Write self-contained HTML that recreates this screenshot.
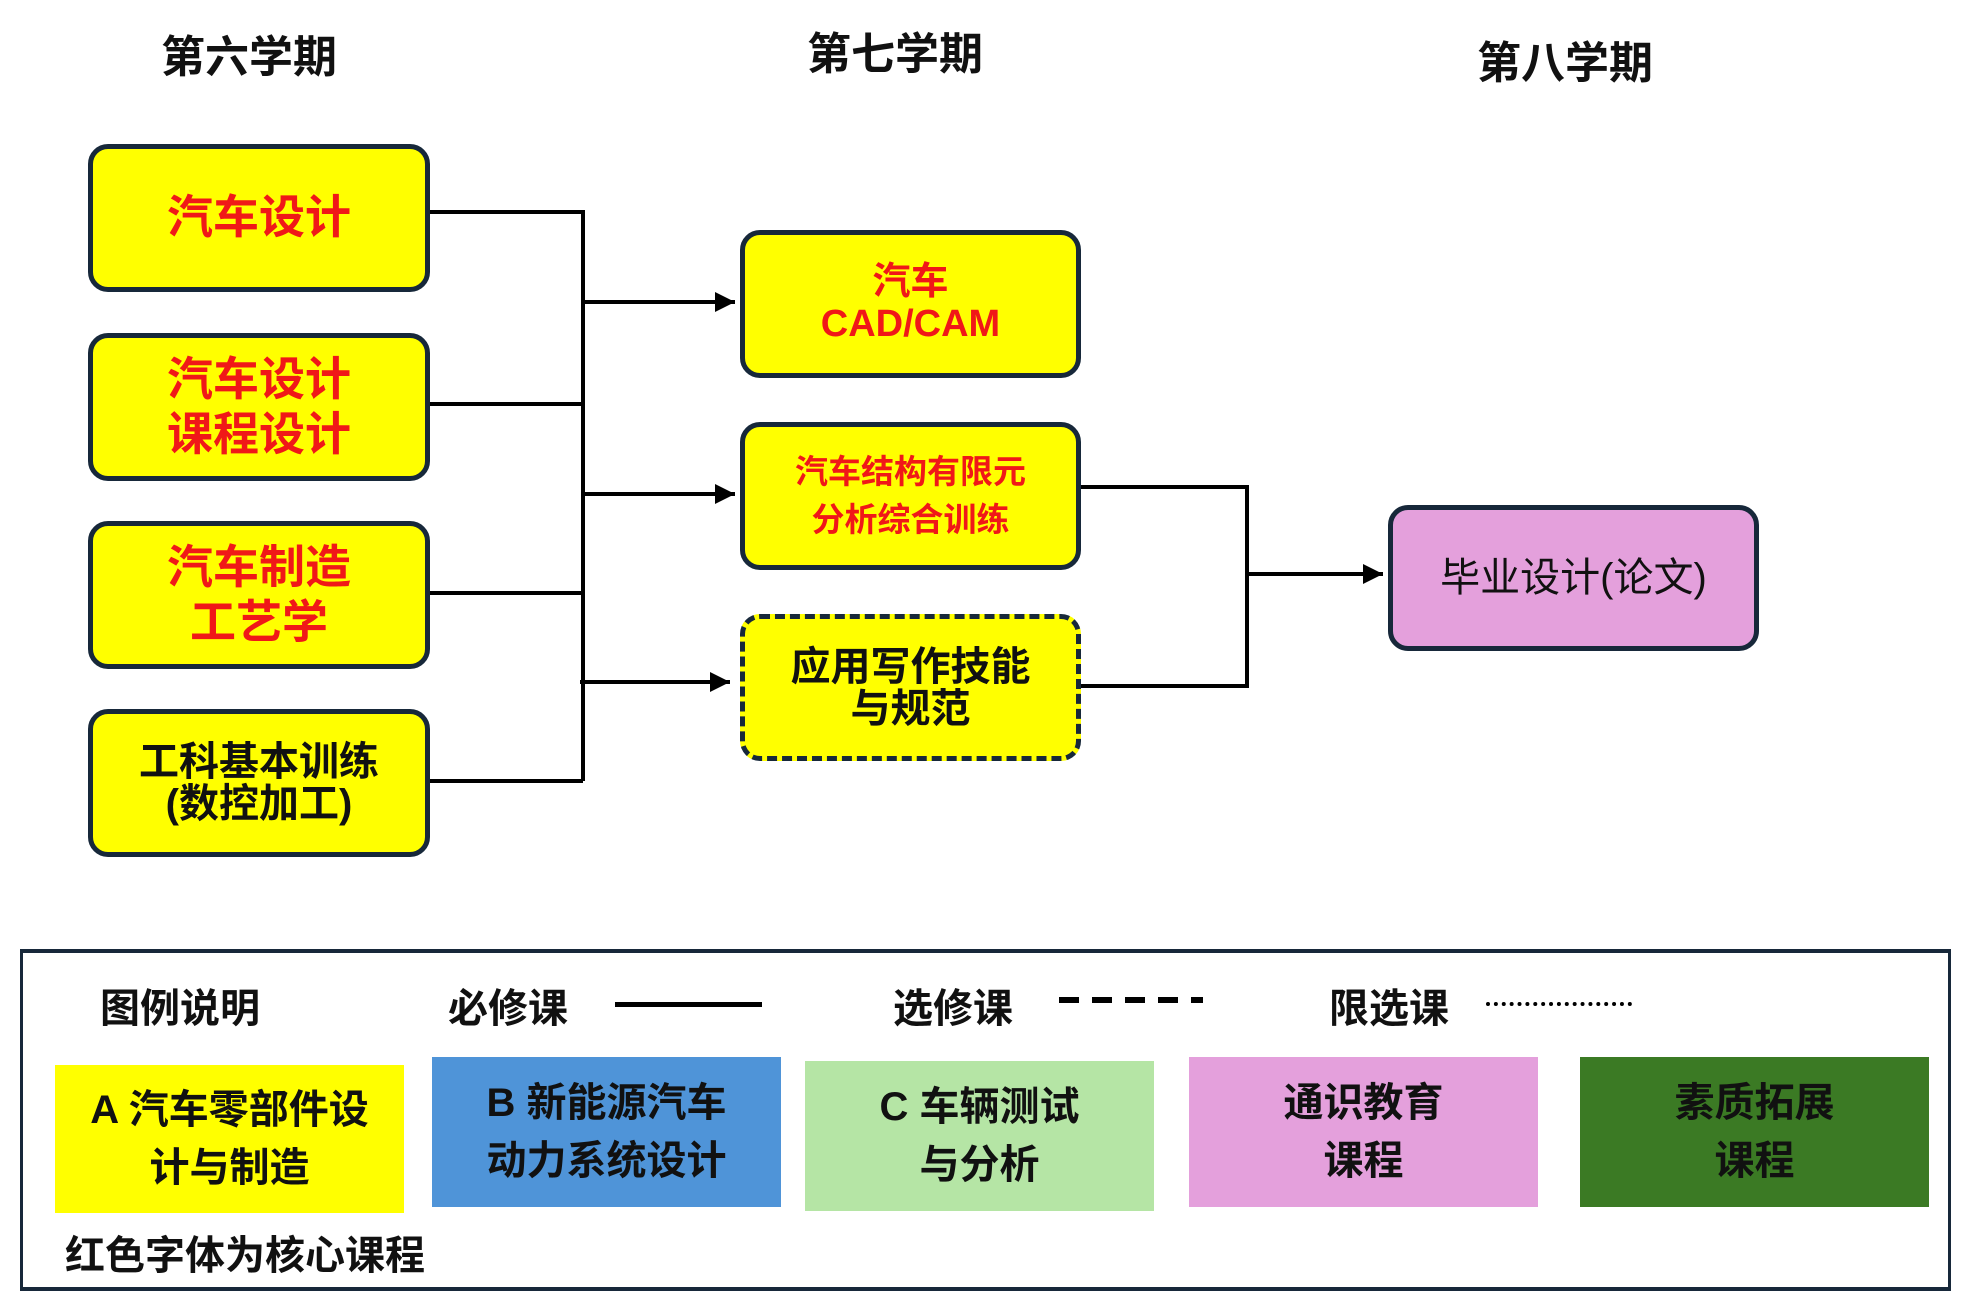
<!DOCTYPE html>
<html><head><meta charset="utf-8"><style>
body{margin:0;width:1969px;height:1312px;background:#fff;position:relative;overflow:hidden;font-family:"Liberation Sans","Noto Sans CJK SC",sans-serif;font-weight:bold}
.a{position:absolute}
.t{position:absolute;font-size:44px;color:#111;transform:translate(-50%,-50%);white-space:nowrap}
.box{position:absolute;box-sizing:border-box;background:#ffff00;border:5px solid #17283a;border-radius:20px;display:flex;align-items:center;justify-content:center;text-align:center;line-height:1.2}
.red{color:#f01818}
.leg{position:absolute;display:flex;align-items:center;justify-content:center;text-align:center;font-size:40px;line-height:1.45;color:#111}
.lt{position:absolute;font-size:40px;color:#111;transform:translateY(-50%);white-space:nowrap}
</style></head><body>
<div class="t" style="left:249px;top:53px">第六学期</div>
<div class="t" style="left:895px;top:50px">第七学期</div>
<div class="t" style="left:1565px;top:59px">第八学期</div>

<div class="box red" style="left:88px;top:144px;width:342px;height:148px;font-size:46px">汽车设计</div>
<div class="box red" style="left:88px;top:333px;width:342px;height:148px;font-size:46px">汽车设计<br>课程设计</div>
<div class="box red" style="left:88px;top:521px;width:342px;height:148px;font-size:46px">汽车制造<br>工艺学</div>
<div class="box" style="left:88px;top:709px;width:342px;height:148px;font-size:40px;color:#111;line-height:1.05">工科基本训练<br>(数控加工)</div>

<div class="box red" style="left:740px;top:230px;width:341px;height:148px;font-size:38px;line-height:1.1">汽车<br>CAD/CAM</div>
<div class="box red" style="left:740px;top:422px;width:341px;height:148px;font-size:33px;line-height:1.45">汽车结构有限元<br>分析综合训练</div>
<div class="box" style="left:740px;top:614px;width:341px;height:147px;font-size:40px;color:#111;border-style:dashed;line-height:1.05">应用写作技能<br>与规范</div>
<div class="box" style="left:1388px;top:505px;width:371px;height:146px;font-size:40px;color:#111;background:#e4a0dc;font-weight:normal">毕业设计(论文)</div>

<svg class="a" style="left:0;top:0" width="1969" height="940">
<defs><marker id="ar" markerWidth="6" markerHeight="6" refX="5" refY="3" orient="auto" markerUnits="strokeWidth"><path d="M0,0.5 L5,3 L0,5.5z" fill="#000"/></marker></defs>
<g stroke="#000" stroke-width="4" fill="none">
<path d="M430 212H583V781M430 404H583M430 593H583M430 781H583"/>
<path d="M585 302H735" marker-end="url(#ar)"/>
<path d="M585 494H735" marker-end="url(#ar)"/>
<path d="M580 682H730" marker-end="url(#ar)"/>
<path d="M1081 487H1247V686H1081"/>
<path d="M1247 574H1383" marker-end="url(#ar)"/>
</g></svg>

<div class="a" style="left:20px;top:949px;width:1931px;height:342px;box-sizing:border-box;border:4px solid #17283a;border-left-width:3px;border-right-width:3px"></div>
<div class="lt" style="left:100px;top:1005px">图例说明</div>
<div class="lt" style="left:448px;top:1005px">必修课</div>
<div class="a" style="left:615px;top:1002px;width:147px;height:5px;background:#000"></div>
<div class="lt" style="left:893px;top:1005px">选修课</div>
<svg class="a" style="left:1059px;top:995px" width="146" height="10"><line x1="0" y1="5" x2="144" y2="5" stroke="#000" stroke-width="6" stroke-dasharray="20 13"/></svg>
<div class="lt" style="left:1329px;top:1005px">限选课</div>
<div class="a" style="left:1486px;top:1002px;width:146px;border-top:4px dotted #000"></div>

<div class="leg" style="left:55px;top:1065px;width:349px;height:148px;background:#ffff00">A 汽车零部件设<br>计与制造</div>
<div class="leg" style="left:432px;top:1057px;width:349px;height:150px;background:#4f94d8">B 新能源汽车<br>动力系统设计</div>
<div class="leg" style="left:805px;top:1061px;width:349px;height:150px;background:#b5e5a5">C 车辆测试<br>与分析</div>
<div class="leg" style="left:1189px;top:1057px;width:349px;height:150px;background:#e4a0dc">通识教育<br>课程</div>
<div class="leg" style="left:1580px;top:1057px;width:349px;height:150px;background:#3b7a24">素质拓展<br>课程</div>
<div class="lt" style="left:65px;top:1252px">红色字体为核心课程</div>
</body></html>
